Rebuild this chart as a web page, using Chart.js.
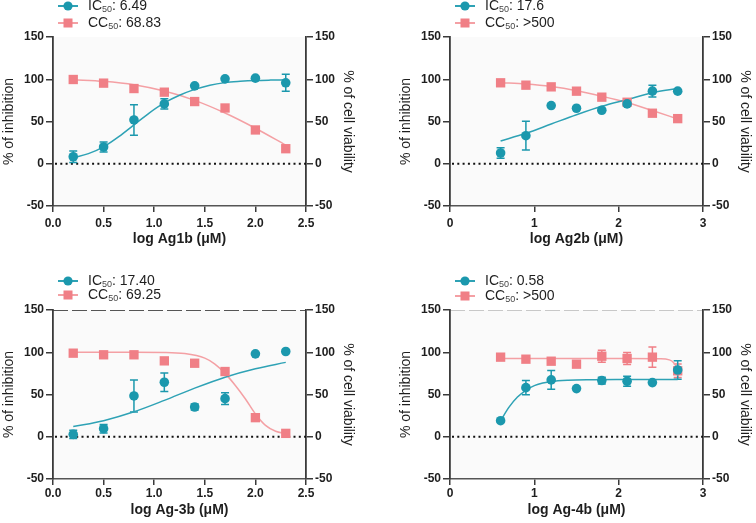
<!DOCTYPE html>
<html>
<head>
<meta charset="utf-8">
<script src="https://cdn.jsdelivr.net/npm/chart.js@4.4.1/dist/chart.umd.min.js"></script>
<style>
html,body{margin:0;padding:0;background:#fff;}
#wrap{position:relative;width:756px;height:523px;background:#fff;overflow:hidden;}
canvas{position:absolute;}
</style>
</head>
<body>
<div id="wrap">
<canvas id="c1" width="378" height="262" style="left:0;top:0"></canvas>
<canvas id="c2" width="378" height="262" style="left:378px;top:0"></canvas>
<canvas id="c3" width="378" height="261" style="left:0;top:262px"></canvas>
<canvas id="c4" width="378" height="261" style="left:378px;top:262px"></canvas>
</div>
<script>
// ---------- DATA ----------
const yTicks = [-50, 0, 50, 100, 150];
const yTickLabels = ['-50', '0', '50', '100', '150'];
const xTicksA = [0, 0.5, 1.0, 1.5, 2.0, 2.5];
const xTickLabelsA = ['0.0', '0.5', '1.0', '1.5', '2.0', '2.5'];
const xTicksB = [0, 1, 2, 3];
const xTickLabelsB = ['0', '1', '2', '3'];

// Panel 1 : Ag1b
const p1X = [0.2, 0.5, 0.8, 1.1, 1.4, 1.7, 2.0, 2.3];
const p1IC = [8.3, 19.8, 51.8, 70.8, 92.2, 100.5, 101.3, 95.8];
const p1ICerr = [6.7, 6, 18, 6, 0, 0, 0, 10];
const p1CC = [99.7, 95.4, 89, 84.7, 73.6, 66, 40, 17.8];
const p1CCerr = [0, 0, 0, 0, 0, 0, 0, 0];
const p1ICfitX = [0.2, 0.35, 0.5, 0.65, 0.8, 0.95, 1.1, 1.25, 1.4, 1.55, 1.7, 1.85, 2.0, 2.15, 2.3];
const p1ICfitY = [7, 12, 20, 32, 46, 60, 72, 81, 88, 93, 96, 97.5, 98.5, 99, 99.3];
const p1CCfitX = [0.2, 0.5, 0.8, 1.1, 1.4, 1.7, 2.0, 2.3];
const p1CCfitY = [99.5, 97.5, 93.5, 86, 75, 60, 42, 22];
const p1Legend = ['6.49', '68.83'];

// Panel 2 : Ag2b
const p2X = [0.6, 0.9, 1.2, 1.5, 1.8, 2.1, 2.4, 2.7];
const p2IC = [12.7, 33.2, 68.9, 65.7, 63.3, 70.8, 85.9, 85.9];
const p2ICerr = [6.3, 17, 0, 0, 0, 0, 7, 0];
const p2CC = [95.8, 93, 91, 85.9, 78.8, 72.8, 59.8, 53.4];
const p2CCerr = [0, 0, 0, 0, 0, 0, 3, 0];
const p2ICfitX = [0.6, 0.9, 1.2, 1.5, 1.8, 2.1, 2.4, 2.7];
const p2ICfitY = [27, 36, 47, 58, 68, 76, 84, 89];
const p2CCfitX = [0.6, 0.9, 1.2, 1.5, 1.8, 2.1, 2.4, 2.7];
const p2CCfitY = [96, 94.3, 91.3, 86.5, 80, 72.5, 63, 53];
const p2Legend = ['17.6', '>500'];

// Panel 3 : Ag-3b
const p3X = [0.2, 0.5, 0.8, 1.1, 1.4, 1.7, 2.0, 2.3];
const p3IC = [2.8, 9.5, 48.3, 64.5, 35.2, 45.1, 98.1, 100.9];
const p3ICerr = [5, 5, 19, 11, 3.5, 7, 0, 0];
const p3CC = [98.9, 97, 97, 89.8, 87, 77.2, 22.6, 4];
const p3CCerr = [0, 0, 0, 0, 0, 0, 0, 0];
const p3ICfitX = [0.2, 0.5, 0.8, 1.1, 1.4, 1.7, 2.0, 2.3];
const p3ICfitY = [12, 19, 29.5, 43, 57.5, 70.5, 80.5, 88];
const p3CCfitX = [0.2, 0.5, 0.8, 1.1, 1.3, 1.5, 1.6, 1.7, 1.8, 1.9, 2.0, 2.1, 2.2, 2.3];
const p3CCfitY = [100, 100, 100, 99.8, 98.5, 93, 86, 75, 61, 45, 27, 13.5, 6.5, 3.8];
const p3Legend = ['17.40', '69.25'];

// Panel 4 : Ag-4b
const p4X = [0.6, 0.9, 1.2, 1.5, 1.8, 2.1, 2.4, 2.7];
const p4IC = [19, 58.1, 67.3, 57, 66.5, 65.7, 64.1, 79];
const p4ICerr = [0, 8.5, 11, 0, 4, 6, 0, 11];
const p4CC = [94.2, 91.8, 89.4, 85.9, 95.3, 92.6, 94.2, 78];
const p4CCerr = [0, 0, 0, 0, 7, 7, 12, 8];
const p4ICfitX = [0.6, 0.7, 0.8, 0.9, 1.0, 1.1, 1.2, 1.4, 1.7, 2.0, 2.4, 2.7];
const p4ICfitY = [19, 35, 47, 55, 60.5, 63.5, 65.5, 67, 67.5, 67.7, 67.8, 67.8];
const p4CCfitX = [0.6, 1.0, 1.5, 2.0, 2.5, 2.6, 2.65, 2.7];
const p4CCfitY = [92.5, 92.5, 92.5, 92.5, 92.3, 91, 88, 80];
const p4Legend = ['0.58', '>500'];

// ---------- STYLE ----------
const FONT = "'Liberation Sans', Arial, Helvetica, sans-serif";
const TEAL = '#1b98ad';
const TEAL_LINE = '#2ea2b5';
const PINK = '#f07f86';
const PINK_LINE = '#f4a0a4';
const AXIS = '#3a3a3a';
const TXT = '#1e1e1e';

function pts(xs, ys) { return xs.map((x, i) => ({ x: x, y: ys[i] })); }

function makePlugin(p) {
  return {
    id: 'panelDeco',
    beforeDraw(chart) {
      const a = chart.chartArea, ctx = chart.ctx;
      ctx.save();
      ctx.fillStyle = '#fafafa';
      ctx.fillRect(a.left, a.top, a.right - a.left, a.bottom - a.top);
      if (p.topBorder) {
        ctx.strokeStyle = p.topBorder;
        ctx.lineWidth = 1.2;
        ctx.setLineDash([15, 4]);
        ctx.beginPath(); ctx.moveTo(a.left, a.top + 0.5); ctx.lineTo(a.right, a.top + 0.5); ctx.stroke();
        ctx.setLineDash([]);
      }
      ctx.restore();
    },
    beforeDatasetsDraw(chart) {
      const a = chart.chartArea, ctx = chart.ctx;
      const xs = chart.scales.x, ys = chart.scales.y, ys2 = chart.scales.y2;
      ctx.save();
      // dotted zero line
      const y0 = ys.getPixelForValue(0);
      ctx.strokeStyle = '#111';
      ctx.lineWidth = 2;
      ctx.setLineDash([2, 3.3]);
      ctx.beginPath(); ctx.moveTo(a.left + 2, y0); ctx.lineTo(a.right, y0); ctx.stroke();
      ctx.setLineDash([]);
      // error bars
      const drawErr = (X, Y, E, scale, color) => {
        ctx.strokeStyle = color; ctx.lineWidth = 1.5;
        X.forEach((xv, i) => {
          if (!E[i]) return;
          const px = xs.getPixelForValue(xv);
          const pt = scale.getPixelForValue(Y[i] + E[i]);
          const pb = scale.getPixelForValue(Y[i] - E[i]);
          ctx.beginPath();
          ctx.moveTo(px, pt); ctx.lineTo(px, pb);
          ctx.moveTo(px - 4, pt); ctx.lineTo(px + 4, pt);
          ctx.moveTo(px - 4, pb); ctx.lineTo(px + 4, pb);
          ctx.stroke();
        });
      };
      drawErr(p.X, p.CC, p.CCerr, ys2, PINK);
      drawErr(p.X, p.IC, p.ICerr, ys, TEAL);
      ctx.restore();
    },
    afterDraw(chart) {
      const ctx = chart.ctx;
      ctx.save();
      const items = [
        { main: 'IC', val: p.legend[0], color: TEAL, line: TEAL_LINE, style: 'circle', y: p.legY[0] },
        { main: 'CC', val: p.legend[1], color: PINK, line: PINK_LINE, style: 'rect', y: p.legY[1] }
      ];
      items.forEach(it => {
        const mx = p.legX;
        ctx.strokeStyle = it.line; ctx.lineWidth = 2;
        ctx.beginPath(); ctx.moveTo(mx - 10, it.y); ctx.lineTo(mx + 10, it.y); ctx.stroke();
        ctx.fillStyle = it.color;
        if (it.style === 'circle') {
          ctx.beginPath(); ctx.arc(mx, it.y, 4.6, 0, Math.PI * 2); ctx.fill();
        } else {
          ctx.fillRect(mx - 4.5, it.y - 4.5, 9, 9);
        }
        let tx = mx + 20;
        ctx.fillStyle = TXT;
        ctx.textBaseline = 'middle';
        ctx.textAlign = 'left';
        ctx.font = '14px ' + FONT;
        ctx.fillText(it.main, tx, it.y);
        tx += ctx.measureText(it.main).width;
        ctx.font = '9px ' + FONT;
        ctx.fillStyle = '#444';
        ctx.fillText('50', tx, it.y + 4);
        tx += ctx.measureText('50').width;
        ctx.font = '14px ' + FONT;
        ctx.fillStyle = TXT;
        ctx.fillText(': ' + it.val, tx, it.y);
      });
      ctx.restore();
    }
  };
}

function yScale(pos, width, titleText, titlePad) {
  return {
    type: 'linear', position: pos, min: -50, max: 150,
    afterBuildTicks: s => { s.ticks = yTicks.map(v => ({ value: v })); },
    ticks: {
      font: { family: FONT, size: 12, weight: 'bold' }, color: TXT, padding: 2,
      callback: (v, i) => yTickLabels[i]
    },
    grid: { display: true, drawOnChartArea: false, drawTicks: true, tickLength: 7, color: AXIS, lineWidth: 1.5 },
    border: { display: true, color: AXIS, width: 1.8 },
    title: { display: true, text: titleText, font: { family: FONT, size: 14 }, color: TXT, padding: { top: titlePad, bottom: 0 } },
    afterFit: s => { s.width = width; }
  };
}

function makeChart(id, p) {
  const xTicks = p.xTicks, xLabels = p.xLabels;
  new Chart(document.getElementById(id), {
    type: 'scatter',
    data: {
      datasets: [
        { data: pts(p.X, p.IC), yAxisID: 'y', pointStyle: 'circle', pointRadius: 4.8, pointBackgroundColor: TEAL, pointBorderWidth: 0, showLine: false },
        { data: pts(p.X, p.CC), yAxisID: 'y2', pointStyle: 'rect', pointRadius: 6.6, pointBackgroundColor: PINK, pointBorderWidth: 0, showLine: false },
        { data: pts(p.ICfitX, p.ICfitY), yAxisID: 'y', showLine: true, borderColor: TEAL_LINE, borderWidth: 1.5, pointRadius: 0, cubicInterpolationMode: 'monotone' },
        { data: pts(p.CCfitX, p.CCfitY), yAxisID: 'y2', showLine: true, borderColor: PINK_LINE, borderWidth: 1.5, pointRadius: 0, cubicInterpolationMode: 'monotone' }
      ]
    },
    options: {
      responsive: false, animation: false, devicePixelRatio: 1,
      layout: { padding: { top: p.padTop, left: 0, right: 0, bottom: 0 } },
      plugins: { legend: { display: false }, tooltip: { enabled: false } },
      scales: {
        x: {
          type: 'linear', min: xTicks[0], max: xTicks[xTicks.length - 1],
          afterBuildTicks: s => { s.ticks = xTicks.map(v => ({ value: v })); },
          ticks: { font: { family: FONT, size: 12, weight: 'bold' }, color: TXT, padding: p.xTickPad, maxRotation: 0, autoSkip: false,
            callback: (v, i) => xLabels[i] },
          grid: { display: true, drawOnChartArea: false, drawTicks: true, tickLength: 6, color: AXIS, lineWidth: 1.5 },
          border: { display: true, color: '#555', width: 1.5 },
          title: { display: true, text: p.xTitle, font: { family: FONT, size: 14, weight: 'bold' }, color: TXT, padding: { top: 0, bottom: p.xTitlePad } },
          afterFit: s => { s.height = p.xHeight; }
        },
        y: yScale('left', p.leftW, '% of inhibition', p.lTitlePad),
        y2: yScale('right', p.rightW, '% of cell viability', p.rTitlePad)
      }
    },
    plugins: [makePlugin(p)]
  });
}

makeChart('c1', { X: p1X, IC: p1IC, ICerr: p1ICerr, CC: p1CC, CCerr: p1CCerr,
  ICfitX: p1ICfitX, ICfitY: p1ICfitY, CCfitX: p1CCfitX, CCfitY: p1CCfitY, legend: p1Legend,
  xTicks: xTicksA, xLabels: xTickLabelsA, xTitle: 'log Ag1b (μM)', xTickPad: 4,
  padTop: 37, xHeight: 56, xTitlePad: 14.6, leftW: 53, rightW: 72, lTitlePad: 0.6, rTitlePad: 21.6,
  legX: 68, legY: [6, 23] });
makeChart('c2', { X: p2X, IC: p2IC, ICerr: p2ICerr, CC: p2CC, CCerr: p2CCerr,
  ICfitX: p2ICfitX, ICfitY: p2ICfitY, CCfitX: p2CCfitX, CCfitY: p2CCfitY, legend: p2Legend,
  xTicks: xTicksB, xLabels: xTickLabelsB, xTitle: 'log Ag2b (μM)', xTickPad: 4,
  padTop: 37, xHeight: 56, xTitlePad: 14.6, leftW: 72, rightW: 53, lTitlePad: 19.6, rTitlePad: 2.6,
  legX: 87, legY: [6, 23] });
makeChart('c3', { X: p3X, IC: p3IC, ICerr: p3ICerr, CC: p3CC, CCerr: p3CCerr,
  ICfitX: p3ICfitX, ICfitY: p3ICfitY, CCfitX: p3CCfitX, CCfitY: p3CCfitY, legend: p3Legend,
  xTicks: xTicksA, xLabels: xTickLabelsA, xTitle: 'log Ag-3b (μM)', xTickPad: 1,
  padTop: 48, xHeight: 44, xTitlePad: 4.6, leftW: 53, rightW: 72, lTitlePad: 0.6, rTitlePad: 21.6,
  legX: 68, legY: [19, 33], topBorder: '#555' });
makeChart('c4', { X: p4X, IC: p4IC, ICerr: p4ICerr, CC: p4CC, CCerr: p4CCerr,
  ICfitX: p4ICfitX, ICfitY: p4ICfitY, CCfitX: p4CCfitX, CCfitY: p4CCfitY, legend: p4Legend,
  xTicks: xTicksB, xLabels: xTickLabelsB, xTitle: 'log Ag-4b (μM)', xTickPad: 1,
  padTop: 48, xHeight: 44, xTitlePad: 4.6, leftW: 72, rightW: 53, lTitlePad: 19.6, rTitlePad: 2.6,
  legX: 87, legY: [19, 34], topBorder: '#c8c8c8' });
</script>
</body>
</html>
